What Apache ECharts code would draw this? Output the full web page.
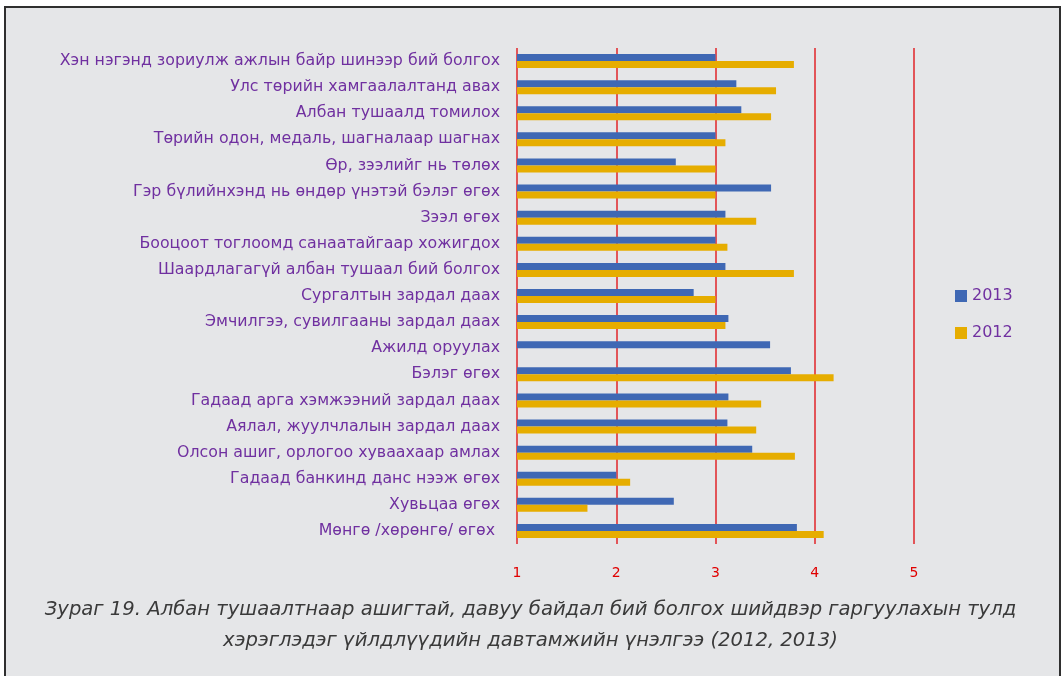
<!DOCTYPE html>
<html>
<head>
<meta charset="utf-8">
<script src="https://cdn.jsdelivr.net/npm/echarts@6/dist/echarts.min.js"></script>
<style>
  html, body { margin: 0; padding: 0; background: #fff; }
  #chart { width: 1061px; height: 676px; }
</style>
</head>
<body>
<div id="chart"></div>
<script>
// ангилал (дээрээс доош)
const categories = [
  'Хэн нэгэнд зориулж ажлын байр шинээр бий болгох',
  'Улс төрийн хамгаалалтанд авах',
  'Албан тушаалд томилох',
  'Төрийн одон, медаль, шагналаар шагнах',
  'Өр, зээлийг нь төлөх',
  'Гэр бүлийнхэнд нь өндөр үнэтэй бэлэг өгөх',
  'Зээл өгөх',
  'Боолоот тоглоомд санаатайгаар хожигдох'.replace('лоот', 'цоот'),
  'Шаардлагагүй албан тушаал бий болгох',
  'Сургалтын зардал даах',
  'Эмчилгээ, сувилгааны зардал даах',
  'Ажилд оруулах',
  'Бэлэг өгөх',
  'Гадаад арга хэмжээний зардал даах',
  'Аялал, жуулчлалын зардал даах',
  'Олсон ашиг, орлогоо хуваахаар амлах',
  'Гадаад банкинд данс нээж өгөх',
  'Хувьцаа өгөх',
  'Мөнгө /хөрөнгө/ өгөх '
]
const values2013 = [3.0, 3.21, 3.26, 3.0, 2.6, 3.56, 3.1, 3.0, 3.1, 2.78, 3.13, 3.55, 3.76, 3.13, 3.12, 3.37, 2.0, 2.58, 3.82]
const values2012 = [3.79, 3.61, 3.56, 3.1, 3.0, 3.0, 3.41, 3.12, 3.79, 3.0, 3.1, null, 4.19, 3.46, 3.41, 3.8, 2.14, 1.71, 4.09]
const xTicks = [1, 2, 3, 4, 5]

const caption1 = 'Зураг 19. Албан тушаалтнаар ашигтай, давуу байдал бий болгох шийдвэр гаргуулахын тулд'
const caption2 = 'хэрэглэдэг үйлдлүүдийн давтамжийн үнэлгээ (2012, 2013)'

const purple = '#7030a0'
const chart = echarts.init(document.getElementById('chart'))

chart.setOption({
  backgroundColor: '#fff',
  animation: false,
  textStyle: { fontFamily: 'DejaVu Sans' },
  graphic: [
    {
      type: 'rect',
      z: -10,
      silent: true,
      shape: { x: 5, y: 7, width: 1055, height: 690 },
      style: { fill: '#e5e6e8', stroke: '#2f2f2f', lineWidth: 2 }
    },
    {
      type: 'text',
      left: 'center',
      top: 600,
      style: {
        text: caption1,
        fill: '#3a3a3a',
        font: 'italic 19.6px "DejaVu Sans"'
      }
    },
    {
      type: 'text',
      left: 'center',
      top: 631,
      style: {
        text: caption2,
        fill: '#3a3a3a',
        font: 'italic 19.6px "DejaVu Sans"'
      }
    }
  ],
  legend: {
    data: ['2013', '2012'],
    orient: 'vertical',
    left: 950,
    top: 283,
    itemWidth: 12,
    itemHeight: 12,
    itemGap: 21,
    icon: 'rect',
    textStyle: { color: purple, fontSize: 16, fontFamily: 'DejaVu Sans' }
  },
  grid: { left: 517, right: 147, top: 48, height: 496 },
  xAxis: {
    type: 'value',
    min: 1,
    max: 5,
    interval: 1,
    axisLine: { show: false },
    axisTick: { show: false },
    axisLabel: {
      color: '#e00000',
      fontSize: 14,
      margin: 22,
      formatter: v => (xTicks.indexOf(v) >= 0 ? String(v) : '')
    },
    splitLine: { show: true, lineStyle: { color: '#e0242a', width: 1.5 } }
  },
  yAxis: {
    type: 'category',
    inverse: true,
    data: categories,
    axisLine: { show: false },
    axisTick: { show: false },
    axisLabel: { color: purple, fontSize: 15.8, margin: 17, fontFamily: 'DejaVu Sans' }
  },
  series: [
    {
      name: '2013',
      type: 'bar',
      data: values2013,
      barWidth: 7,
      barGap: '0%',
      itemStyle: { color: '#3f68b4' }
    },
    {
      name: '2012',
      type: 'bar',
      data: values2012,
      barWidth: 7,
      barGap: '0%',
      itemStyle: { color: '#e6ad00' }
    }
  ]
})
</script>
</body>
</html>
